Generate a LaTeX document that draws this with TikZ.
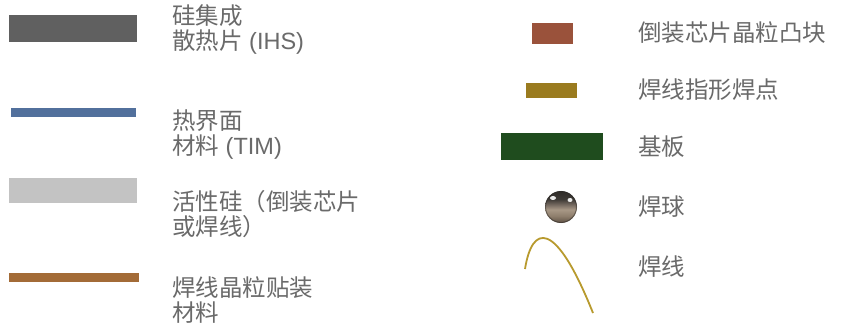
\documentclass[tikz,border=0pt]{standalone}
\usepackage{fontspec}
\setmainfont{Liberation Sans}
\newfontfamily\cjk{Noto Sans CJK SC}
\definecolor{txt}{HTML}{6A6A6A}
\definecolor{ihscol}{HTML}{606060}
\definecolor{timcol}{HTML}{52709C}
\definecolor{actcol}{HTML}{C3C3C3}
\definecolor{dacol}{HTML}{A36B37}
\definecolor{bumpcol}{HTML}{9A523B}
\definecolor{fingcol}{HTML}{9A7B1F}
\definecolor{subcol}{HTML}{1F4C1E}
\definecolor{wirecol}{HTML}{B89A2E}
\definecolor{b1}{HTML}{5E5044}
\definecolor{b2}{HTML}{8E7E6C}
\definecolor{b3}{HTML}{A89886}
\definecolor{b4}{HTML}{7A6E64}
\definecolor{b5}{HTML}{3E3A36}
\definecolor{b6}{HTML}{2E2B28}
\pgfdeclareverticalshading{ballsh}{100bp}{color(0bp)=(b1); color(25bp)=(b1); color(36bp)=(b2); color(46bp)=(b3); color(53bp)=(b4); color(62bp)=(b5); color(75bp)=(b6); color(100bp)=(b6)}
\begin{document}
\begin{tikzpicture}[x=1pt,y=-1pt,
  lbl/.style={anchor=west, inner sep=0pt, align=left, text=txt, font=\fontsize{23.5}{25}\selectfont},
  swatch/.style={draw=none, inner sep=0pt, outer sep=0pt}]
\useasboundingbox[fill=white] (0,0) rectangle (843,323);
% left column
\node[swatch, fill=ihscol, minimum width=128pt, minimum height=27pt] (ihs) at (73,28.5) {};
\node[lbl] (ihsT) at (172,29.5) {{\cjk 硅集成}\\{\cjk 散热片} (IHS)};
\node[swatch, fill=timcol, minimum width=125pt, minimum height=9pt] (tim) at (73.5,112.5) {};
\node[lbl] (timT) at (172,134.5) {{\cjk 热界面}\\{\cjk 材料} (TIM)};
\node[swatch, fill=actcol, minimum width=128pt, minimum height=25pt] (act) at (73,190.5) {};
\node[lbl] (actT) at (172,214) {{\cjk 活性硅（倒装芯片}\\{\cjk 或焊线）}};
\node[swatch, fill=dacol, minimum width=130pt, minimum height=9pt] (da) at (74,277.5) {};
\node[lbl] (daT) at (172,300) {{\cjk 焊线晶粒贴装}\\{\cjk 材料}};
% right column
\node[swatch, fill=bumpcol, minimum width=41pt, minimum height=21pt] (bump) at (552.5,33.5) {};
\node[lbl] (bumpT) at (638,33) {\cjk 倒装芯片晶粒凸块};
\node[swatch, fill=fingcol, minimum width=51pt, minimum height=15pt] (fing) at (551.5,90.5) {};
\node[lbl] (fingT) at (638,90) {\cjk 焊线指形焊点};
\node[swatch, fill=subcol, minimum width=102pt, minimum height=27pt] (sub) at (552,146.5) {};
\node[lbl] (subT) at (638,147) {\cjk 基板};
\node[circle, draw=none, inner sep=0pt, minimum size=32pt, shading=ballsh] (ball) at (561,207) {};
\draw[b6, opacity=0.5, line width=1pt] (ball.center) circle (15.5pt);
\fill[white, opacity=0.9] (553,198) ellipse (3pt and 2pt);
\fill[white, opacity=0.9] (570,200) ellipse (2.5pt and 2pt);
\node[lbl] (ballT) at (638,207) {\cjk 焊球};
\coordinate (w1) at (525,269);
\coordinate (w2) at (593,313);
\draw[wirecol, line width=1.8pt] (w1) .. controls (532,225) and (555,218) .. (w2);
\node[lbl] (wireT) at (638,267) {\cjk 焊线};
\end{tikzpicture}
\end{document}
